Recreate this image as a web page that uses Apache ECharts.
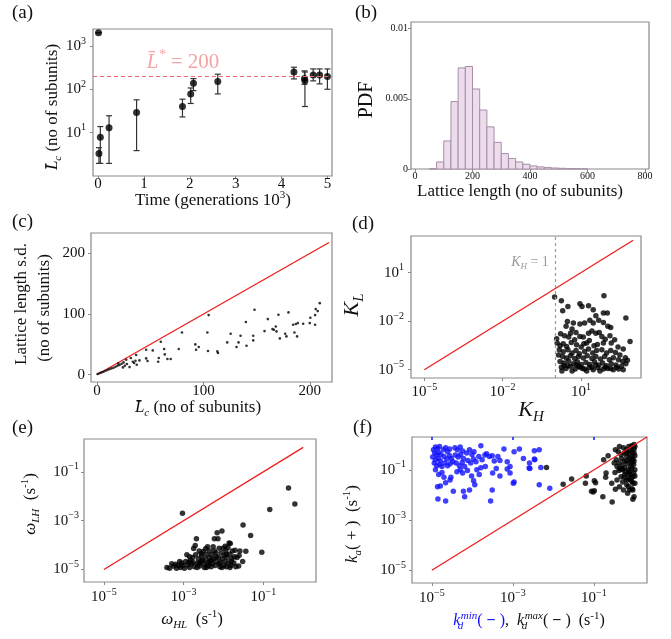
<!DOCTYPE html>
<html>
<head>
<meta charset="utf-8">
<script src="https://cdn.jsdelivr.net/npm/echarts@6/dist/echarts.min.js"></script>
<style>
html, body { margin: 0; padding: 0; background: #fff; }
#chart { width: 671px; height: 639px; }
</style>
</head>
<body>
<div id="chart"></div>
<script>
// (a) mean lattice length vs time (generations x 10^3), with error bars
const timeK = [0.01, 0.02, 0.05, 0.24, 0.84, 1.84, 2.02, 2.08, 2.61, 4.27, 4.50, 4.51, 4.69, 4.83, 5.0]
const meanLen = [2000, 3.3, 7.8, 13, 29, 40, 78, 137, 150, 250, 178, 158, 214, 214, 196]
const lenLow = [2000, 1.95, 1.95, 1.95, 3.85, 23, 47, 93, 78, 173, 130, 40, 156, 133, 100]
const lenHigh = [2000, 4.5, 13.8, 24.5, 57, 59, 107, 176, 222, 322, 265, 250, 294, 294, 294]
const targetLen = 200
const timeTicks = [0, 1, 2, 3, 4, 5]
const lenTicks = [10, 100, 1000]

// (b) histogram of lattice length
const binWidth = 25
const binStart = [50, 75, 100, 125, 150, 175, 200, 225, 250, 275, 300, 325, 350, 375, 400, 425, 450, 475, 500, 525, 550, 575]
const pdfValues = [0.00002, 0.0005, 0.002, 0.0048, 0.0072, 0.0073, 0.0057, 0.0042, 0.0030, 0.0019, 0.0011, 0.00075,
  0.0005, 0.00034, 0.00022, 0.00015, 0.0001, 0.00007, 0.00005, 0.00003, 0.00002, 0.00001]
const latticeTicks = [0, 200, 400, 600, 800]
const pdfTicks = [0, 0.005, 0.01]

// (c) mean length vs s.d. [mean, sd]
const meanSdPoints = [
  [0.6, 1.1], [2.5, 2.7], [4.3, 3.8], [6.2, 4.9], [8.1, 6.6], [10.0, 7.7], [11.8, 9.3], [13.7, 10.4], [15.6, 11.5], [17.5, 13.2],
  [19.3, 14.8], [21.2, 15.9], [23.1, 18.1], [25.0, 20.3], [20.0, 18.7], [24.4, 12.1], [26.2, 14.8], [27.5, 24.7], [28.1, 17.6], [30.6, 12.6],
  [31.8, 27.5], [33.7, 21.4], [34.9, 19.2], [36.2, 23.1], [37.4, 16.5], [36.8, 32.4], [39.9, 23.6], [46.2, 41.2], [46.2, 26.9], [47.5, 22.5],
  [52.4, 40.1], [57.5, 21.4], [58.1, 27.5], [60.0, 54.4], [63.1, 42.3], [63.7, 33.5], [66.2, 25.8], [69.3, 25.8], [76.8, 42.3], [79.9, 69.7],
  [92.4, 50], [93.1, 41.2], [95.6, 45.6], [103.7, 69.7], [104.3, 39], [104.9, 98.3], [113.1, 38.4], [113.7, 35.7], [122.4, 53.3], [125.6, 67.5],
  [131.1, 45.6], [133.0, 53.3], [134.9, 64.3], [139.9, 86.8], [140.5, 47.8], [146.8, 64.3], [146.8, 56.6], [148.0, 107], [157.4, 71.9], [160.5, 91.7],
  [164.9, 75.2], [166.2, 74.1], [168.0, 79.6], [168.7, 71.4], [170.5, 98.8], [171.8, 59.9], [176.8, 67.5], [178.0, 63.2], [179.9, 102.7], [184.3, 82.4],
  [185.5, 69.7], [186.8, 83.5], [188.0, 63.2], [188.7, 85.1], [193.7, 84], [199.9, 85.1], [200.5, 93.9], [204.9, 82.4], [204.9, 98.3], [205.5, 108.2],
  [207.4, 104.9], [209.3, 118]
]
const sdLine = [[0, 0], [218, 218]]
const sdTicks = [0, 100, 200]

// (d) K_H vs K_L, stored as [log10 K_H, log10 K_L]
const kPointsLog = [
  [-0.01, -0.51], [0.25, -0.74], [0.50, -1.09], [0.30, -1.36], [0.96, -0.93], [1.04, -1.09], [1.29, -1.05], [1.88, -0.43], [1.47, -1.30], [1.57, -1.67],
  [1.86, -1.50], [2.01, -1.50], [2.72, -1.81], [2.88, -3.25], [0.48, -2.02], [0.43, -2.32], [0.71, -2.12], [0.96, -2.18], [1.14, -2.12], [1.34, -1.95],
  [1.47, -2.12], [1.68, -1.95], [1.86, -2.08], [2.03, -2.32], [2.14, -2.39], [0.66, -2.49], [0.81, -2.70], [0.60, -2.74], [0.22, -2.78], [0.37, -2.90],
  [0.07, -3.09], [0.53, -2.98], [0.76, -3.15], [0.96, -2.94], [1.09, -2.98], [1.29, -2.74], [1.42, -2.61], [1.57, -2.74], [1.70, -2.70], [1.80, -2.94],
  [1.93, -3.11], [2.11, -2.90], [2.29, -3.15], [1.32, -3.19], [1.22, -3.35], [0.09, -3.35], [0.20, -3.52], [0.32, -3.39], [0.45, -3.56], [0.63, -3.31],
  [0.83, -3.46], [1.01, -3.60], [1.11, -3.39], [1.50, -3.52], [1.63, -3.44], [1.86, -3.35], [2.16, -3.35], [2.42, -3.60], [2.62, -3.72], [0.17, -3.77],
  [0.32, -3.89], [0.50, -3.77], [0.66, -3.97], [0.81, -3.81], [0.94, -4.01], [1.14, -3.87], [1.29, -3.72], [1.45, -3.97], [1.60, -3.81], [1.80, -3.77],
  [1.98, -3.97], [2.14, -3.81], [2.32, -3.93], [2.49, -4.09], [2.70, -4.26], [2.78, -4.42], [0.14, -4.09], [0.30, -4.18], [0.45, -4.28], [0.60, -4.14],
  [0.76, -4.30], [0.91, -4.18], [1.09, -4.28], [1.24, -4.14], [1.42, -4.30], [1.57, -4.18], [1.75, -4.34], [1.91, -4.18], [2.09, -4.38], [2.24, -4.26],
  [2.44, -4.38], [2.60, -4.49], [0.20, -4.49], [0.35, -4.59], [0.53, -4.46], [0.71, -4.63], [0.86, -4.51], [1.01, -4.67], [1.19, -4.55], [1.34, -4.67],
  [1.52, -4.51], [1.68, -4.71], [1.83, -4.59], [1.98, -4.75], [2.16, -4.63], [2.34, -4.71], [2.55, -4.79], [2.72, -4.63], [0.25, -4.84], [0.43, -4.92],
  [0.60, -4.79], [0.78, -4.96], [0.96, -4.84], [1.14, -4.96], [1.32, -4.84], [1.47, -5.00], [1.65, -4.88], [1.86, -4.96], [2.03, -4.92], [2.24, -5.00],
  [2.44, -4.96], [0.27, -5.08], [0.66, -5.08], [1.22, -5.08], [1.73, -5.08], [2.62, -5.00], [0.50, -4.75], [0.91, -4.79], [1.06, -4.92], [1.42, -4.84],
  [1.57, -4.71], [1.93, -4.84], [2.14, -4.92], [2.37, -4.84], [0.83, -4.71], [0.35, -4.75]
]
const kLine = [[1e-5, 1e-5], [1e3, 1e3]]
const kTicks = [1e-5, 1e-2, 1e1]

// (e) omega_HL vs omega_LH, stored as [log10 wHL, log10 wLH]
const omegaPointsLog = [
  [-3.42, -4.92], [-3.35, -4.95], [-3.30, -4.76], [-3.25, -4.86], [-3.18, -4.95], [-3.20, -4.78], [-3.13, -4.84], [-3.08, -4.92], [-3.05, -4.73], [-3.02, -4.84],
  [-2.98, -4.95], [-2.95, -4.67], [-2.92, -4.40], [-2.90, -4.81], [-2.85, -4.92], [-2.83, -4.62], [-2.80, -4.76], [-2.77, -4.51], [-2.75, -4.14], [-2.71, -4.02],
  [-2.73, -4.89], [-2.70, -4.40], [-2.68, -3.74], [-2.66, -4.73], [-2.63, -4.56], [-2.61, -4.24], [-2.60, -4.86], [-2.56, -4.67], [-2.55, -4.45], [-2.51, -4.26],
  [-2.50, -4.76], [-2.48, -4.92], [-2.46, -4.56], [-2.45, -4.15], [-2.43, -4.37], [-2.41, -4.73], [-2.40, -4.07], [-2.38, -4.86], [-2.36, -4.51], [-2.35, -4.24],
  [-2.33, -4.65], [-2.31, -4.89], [-2.30, -4.40], [-2.28, -4.76], [-2.26, -4.07], [-2.25, -4.56], [-2.23, -3.74], [-2.21, -4.84], [-2.19, -4.32], [-2.18, -4.67],
  [-2.16, -3.50], [-2.14, -3.74], [-2.13, -4.51], [-2.11, -4.13], [-2.09, -4.89], [-2.08, -4.70], [-2.06, -4.32], [-2.04, -3.42], [-2.03, -4.56], [-2.01, -4.13],
  [-1.99, -4.84], [-1.98, -4.43], [-1.96, -4.67], [-1.94, -4.24], [-1.93, -4.89], [-1.91, -4.51], [-1.89, -4.10], [-1.88, -4.73], [-1.86, -3.91], [-1.84, -4.37],
  [-1.83, -3.94], [-1.81, -4.84], [-1.79, -4.56], [-1.78, -4.24], [-1.74, -4.73], [-1.71, -4.21], [-1.69, -4.89], [-1.66, -4.51], [-1.62, -4.86], [-1.61, -4.43],
  [-1.59, -4.24], [-1.52, -4.67], [-1.44, -4.25], [-1.51, -3.18], [-1.32, -3.61], [-1.04, -4.29], [-0.84, -2.54], [-0.37, -1.66], [-0.21, -2.32], [-3.03, -2.70],
  [-3.10, -4.67], [-2.87, -4.70], [-2.66, -4.92], [-2.53, -4.62], [-2.43, -4.92], [-2.30, -4.62], [-2.18, -4.48], [-2.04, -4.92], [-1.93, -4.37], [-1.81, -4.67],
  [-1.73, -4.48], [-2.61, -4.76], [-2.36, -4.70], [-2.11, -4.76], [-2.77, -4.70], [-2.85, -4.48], [-2.56, -4.35], [-2.23, -4.24], [-1.96, -4.05], [-1.84, -4.92]
]
const omegaLine = [[1e-5, 1e-5], [1, 1]]
const rateTicks = [1e-5, 1e-3, 1e-1]

// (f) k_d vs k_a, stored as [log10 k_d, log10 k_a]
const kdMinPointsLog = [
  [-4.96, -0.20], [-4.91, -0.09], [-4.86, -0.15], [-4.81, -0.07], [-4.93, -0.33], [-4.88, -0.41], [-4.83, -0.31], [-4.78, -0.39], [-4.98, -0.49], [-4.91, -0.60],
  [-4.84, -0.55], [-4.79, -0.65], [-4.94, -0.73], [-4.88, -0.84], [-4.81, -0.79], [-4.75, -0.87], [-4.71, -0.20], [-4.66, -0.12], [-4.61, -0.28], [-4.56, -0.17],
  [-4.70, -0.47], [-4.63, -0.57], [-4.56, -0.44], [-4.52, -0.55], [-4.68, -0.73], [-4.61, -0.84], [-4.55, -0.76], [-4.48, -0.68], [-4.43, -0.12], [-4.37, -0.20],
  [-4.30, -0.09], [-4.24, -0.25], [-4.42, -0.41], [-4.35, -0.49], [-4.29, -0.39], [-4.22, -0.55], [-4.40, -0.73], [-4.32, -0.84], [-4.25, -0.71], [-4.19, -0.87],
  [-4.14, -0.33], [-4.07, -0.20], [-4.01, -0.39], [-3.96, -0.28], [-4.11, -0.63], [-4.04, -0.73], [-3.97, -0.57], [-3.91, -0.68], [-3.84, -0.47], [-3.79, -0.04],
  [-3.76, -0.60], [-3.69, -0.41], [-3.65, -0.36], [-3.58, -0.47], [-3.51, -0.44], [-3.46, -0.65], [-3.37, -0.47], [-3.32, -0.63], [-3.22, -0.17], [-3.14, -0.68],
  [-3.07, -0.87], [-2.97, -0.28], [-2.84, -0.17], [-2.74, -0.55], [-2.59, -0.73], [-2.58, -0.95], [-2.46, -0.60], [-2.35, -0.20], [-2.35, -1.59], [-4.47, -1.85],
  [-4.22, -1.85], [-4.19, -2.07], [-4.07, -1.80], [-3.97, -1.43], [-3.94, -1.59], [-3.83, -1.19], [-4.86, -1.67], [-4.79, -1.64], [-4.66, -1.51], [-4.55, -1.40],
  [-4.53, -1.29], [-4.38, -1.08], [-4.30, -1.00], [-4.24, -1.13], [-4.12, -1.03], [-4.02, -1.24], [-4.91, -1.00], [-4.83, -1.19], [-4.75, -1.11], [-4.70, -1.29],
  [-3.41, -0.95], [-3.50, -1.13], [-3.32, -1.24], [-3.14, -0.97], [-3.07, -1.13], [-2.97, -1.48], [-2.99, -1.53], [-3.51, -1.80], [-3.89, -1.00], [-3.79, -0.92],
  [-3.68, -0.87], [-4.85, -2.16], [-4.66, -2.24], [-3.55, -2.24], [-2.09, -1.73], [-2.47, -0.57], [-2.47, -0.24], [-2.60, -0.93], [-2.31, -0.91]
]
const kdMaxPointsLog = [
  [-1.19, -1.24], [-1.21, -1.53], [-0.99, -1.43], [-0.96, -1.51], [-0.99, -1.83], [-1.02, -1.88], [-1.06, -1.85], [-0.78, -2.07], [-0.76, -0.60], [-0.65, -0.44],
  [-0.70, -1.13], [-0.55, -2.28], [-0.04, -2.17], [-0.71, -1.29], [-0.48, -1.11], [-0.56, -1.53], [-0.47, -1.77], [-0.43, -1.40], [-0.37, -1.67], [-0.38, -1.03],
  [-0.33, -1.27], [-0.29, -1.48], [-0.24, -1.19], [-0.19, -1.59], [-0.15, -1.37], [-0.12, -1.08], [-0.07, -1.45], [-0.12, -1.80], [-0.06, -1.75], [-0.15, -1.67],
  [-0.47, -0.20], [-0.40, -0.28], [-0.33, -0.39], [-0.27, -0.12], [-0.20, -0.20], [-0.14, -0.07], [-0.07, -0.04], [-0.01, 0.01], [-0.45, -0.60], [-0.38, -0.73],
  [-0.32, -0.55], [-0.25, -0.65], [-0.19, -0.47], [-0.12, -0.36], [-0.06, -0.28], [-0.01, -0.17], [-0.43, -0.87], [-0.37, -0.95], [-0.30, -0.81], [-0.24, -0.92],
  [-0.17, -0.76], [-0.10, -0.65], [-0.04, -0.57], [0.01, -0.44], [-0.50, -0.73], [-0.22, -1.08], [-0.15, -1.00], [-0.09, -0.87], [-0.02, -0.79], [0.01, -1.00],
  [-0.04, -1.27], [0.01, -1.53], [-0.01, -2.07], [-0.04, -0.09], [0.01, -0.07], [-0.01, -0.65], [-0.10, -1.19], [-0.29, -1.00], [-0.20, -1.40], [-0.27, -1.80],
  [-0.17, -1.93], [-0.02, -1.13], [-0.07, -0.95], [-0.37, -0.07], [-0.25, -0.33], [-2.17, -0.91], [-1.76, -1.57], [-1.55, -1.36], [-0.12, -0.20], [-0.19, -0.33],
  [-0.06, -0.47], [-0.12, -0.55], [-0.20, -0.65], [-0.32, -0.97], [-0.25, -1.29], [-0.15, -1.19], [-0.09, -1.35], [-0.04, -1.53], [-0.01, -0.33], [-0.06, -0.73],
  [0.01, -1.24], [-0.04, -1.80]
]
const rateLine = [[1e-5, 1e-5], [2.04, 2.04]]

const SERIF = 'Liberation Serif'
const INK = '#111'
const BOX = '#8a8a8a'
const RED = '#ee1d1d'
const BLUE = '#1010ff'

const chart = echarts.init(document.getElementById('chart'))

// log10 pairs -> plain values for the log axes
const fromLog = (pts) => pts.map(p => [Math.pow(10, p[0]), Math.pow(10, p[1])])

// tick label "10^n" with a raised exponent
function powLabel (v) {
  const e = Math.round(Math.log10(v))
  return '10{s|' + (e < 0 ? '\u2212' + (-e) : e) + '}'
}

function makeAxis (gridIndex, type, min, max, ticks, size, margin, formatter) {
  const sup = Math.round(size * 0.68)
  return {
    type, gridIndex, min, max,
    axisLine: { show: false, onZero: false },
    axisTick: { show: true, length: 3, customValues: ticks, lineStyle: { color: BOX, width: 1 } },
    axisLabel: {
      customValues: ticks,
      margin,
      formatter,
      fontFamily: SERIF,
      fontSize: size,
      color: INK,
      // plain numbers need no room for an exponent
      lineHeight: formatter ? Math.round(size * 1.3) : size,
      rich: { s: { fontFamily: SERIF, fontSize: sup, lineHeight: sup, verticalAlign: 'top', color: INK } }
    },
    splitLine: { show: false }
  }
}

// rich text styles for titles (graphic text uses fill)
function richSet (size, color) {
  const lh = Math.round(size * 1.3)
  const small = Math.round(size * 0.66)
  const base = { fontFamily: SERIF, fill: color, color }
  return {
    n: Object.assign({}, base, { fontSize: size, lineHeight: lh }),
    i: Object.assign({}, base, { fontSize: size, lineHeight: lh, fontStyle: 'italic' }),
    sub: Object.assign({}, base, { fontSize: small, lineHeight: small, verticalAlign: 'bottom', fontStyle: 'italic' }),
    subz: Object.assign({}, base, { fontSize: small, lineHeight: small, verticalAlign: 'bottom', fontStyle: 'italic', width: 0.5, align: 'left' }),
    sup: Object.assign({}, base, { fontSize: small, lineHeight: small, verticalAlign: 'top' }),
    supi: Object.assign({}, base, { fontSize: small, lineHeight: small, verticalAlign: 'top', fontStyle: 'italic' }),
    dash: Object.assign({}, base, { fontSize: size, lineHeight: lh, fontWeight: 'bold' })
  }
}

function textEl (x, y, text, size, color, rotate, extraRich) {
  return {
    type: 'text',
    x, y,
    rotation: rotate ? Math.PI / 2 : 0,
    silent: true,
    z: 100,
    style: {
      text,
      rich: Object.assign(richSet(size, color), extraRich || {}),
      align: 'center',
      verticalAlign: 'middle',
      fontFamily: SERIF,
      fontSize: size,
      fill: color
    }
  }
}

// blue tokens for the k_d^min part of (f)
const blueRich = (() => {
  const r = richSet(16, BLUE)
  return { bi: r.i, bsubz: r.subz, bsupi: r.supi, bn: r.n, bdash: r.dash }
})()

const grids = [
  { left: 93, top: 29, width: 239, height: 147 },
  { left: 411, top: 22, width: 238, height: 147 },
  { left: 91, top: 233, width: 241, height: 149 },
  { left: 411, top: 236, width: 230, height: 142 },
  { left: 84, top: 439, width: 232, height: 143 },
  { left: 412, top: 437, width: 235, height: 146 }
].map(g => Object.assign(g, { show: true, borderColor: BOX, borderWidth: 1.2 }))

const xAxes = [
  makeAxis(0, 'value', -0.11, 5.1, timeTicks, 15, 1),
  makeAxis(1, 'value', -14, 814, latticeTicks, 10, 2),
  makeAxis(2, 'value', -5.6, 220.8, sdTicks, 15, 2),
  makeAxis(3, 'log', 3.09e-6, 1995, kTicks, 15, 4, powLabel),
  makeAxis(4, 'log', 3.16e-6, 2.09, rateTicks, 15, 5, powLabel),
  makeAxis(5, 'log', 3.24e-6, 2.04, rateTicks, 15, 5, powLabel),
  // blue tick marks along the top of (f)
  {
    type: 'log', gridIndex: 5, position: 'top', min: 3.24e-6, max: 2.04,
    axisLine: { show: false, onZero: false },
    axisTick: { show: true, inside: true, length: 3, customValues: rateTicks, lineStyle: { color: BLUE, width: 1.5 } },
    axisLabel: { show: false },
    splitLine: { show: false }
  }
]

const yAxes = [
  makeAxis(0, 'log', 1, 2450, lenTicks, 15, 7, powLabel),
  makeAxis(1, 'value', 0, 0.01047, pdfTicks, 10, 3),
  makeAxis(2, 'value', -12, 233.6, sdTicks, 15, 6),
  makeAxis(3, 'log', 3.09e-6, 1820, kTicks, 15, 7, powLabel),
  makeAxis(4, 'log', 3.09e-6, 2.19, rateTicks, 15, 5, powLabel),
  makeAxis(5, 'log', 3.09e-6, 2.04, rateTicks, 15, 6, powLabel)
]

const redLine = (idx, data, z) => ({
  type: 'line', xAxisIndex: idx, yAxisIndex: idx, data, symbol: 'none', silent: true, z: z || 2,
  lineStyle: { color: RED, width: 1.3 }
})

const option = {
  animation: false,
  backgroundColor: '#fff',
  grid: grids,
  xAxis: xAxes,
  yAxis: yAxes,
  series: [
    // (a) error bars
    {
      type: 'custom',
      xAxisIndex: 0,
      yAxisIndex: 0,
      data: timeK.map((t, i) => [t, lenLow[i], lenHigh[i]]),
      encode: { x: 0, y: [1, 2] },
      renderItem: (params, api) => {
        const lo = api.coord([api.value(0), api.value(1)])
        const hi = api.coord([api.value(0), api.value(2)])
        const w = 3
        const st = { stroke: '#333', lineWidth: 1.2 }
        return {
          type: 'group',
          children: [
            { type: 'line', shape: { x1: lo[0], y1: lo[1], x2: hi[0], y2: hi[1] }, style: st },
            { type: 'line', shape: { x1: lo[0] - w, y1: lo[1], x2: lo[0] + w, y2: lo[1] }, style: st },
            { type: 'line', shape: { x1: hi[0] - w, y1: hi[1], x2: hi[0] + w, y2: hi[1] }, style: st }
          ]
        }
      }
    },
    // (a) means
    {
      type: 'scatter',
      xAxisIndex: 0,
      yAxisIndex: 0,
      data: timeK.map((t, i) => [t, meanLen[i]]),
      symbolSize: 7,
      itemStyle: { color: '#000' },
      z: 3,
      markLine: {
        silent: true,
        symbol: ['none', 'none'],
        label: { show: false },
        lineStyle: { color: '#f26a6a', type: [4, 3], width: 1 },
        data: [{ yAxis: targetLen }]
      }
    },
    // (b) histogram
    {
      type: 'custom',
      xAxisIndex: 1,
      yAxisIndex: 1,
      data: binStart.map((s, i) => [s, s + binWidth, pdfValues[i]]),
      encode: { x: [0, 1], y: 2 },
      renderItem: (params, api) => {
        const top = api.coord([api.value(0), api.value(2)])
        const bottom = api.coord([api.value(1), 0])
        return {
          type: 'rect',
          shape: { x: top[0], y: top[1], width: bottom[0] - top[0], height: bottom[1] - top[1] },
          style: { fill: '#eddcec', stroke: '#a68ea6', lineWidth: 1 }
        }
      }
    },
    // (c)
    redLine(2, sdLine),
    {
      type: 'scatter', xAxisIndex: 2, yAxisIndex: 2, data: meanSdPoints,
      symbolSize: 2.6, itemStyle: { color: '#000' }, z: 3
    },
    // (d)
    redLine(3, kLine),
    {
      type: 'scatter', xAxisIndex: 3, yAxisIndex: 3, data: fromLog(kPointsLog),
      symbolSize: 5.5, itemStyle: { color: '#000' }, z: 3,
      markLine: {
        silent: true,
        symbol: ['none', 'none'],
        label: { show: false },
        lineStyle: { color: '#9a9a9a', type: [3, 3], width: 1.2 },
        data: [{ xAxis: 1 }]
      }
    },
    // (e)
    redLine(4, omegaLine),
    {
      type: 'scatter', xAxisIndex: 4, yAxisIndex: 4, data: fromLog(omegaPointsLog),
      symbolSize: 5.5, itemStyle: { color: '#000' }, z: 3
    },
    // (f)
    {
      type: 'scatter', xAxisIndex: 5, yAxisIndex: 5, data: fromLog(kdMinPointsLog),
      symbolSize: 5.5, itemStyle: { color: BLUE }, z: 3
    },
    {
      type: 'scatter', xAxisIndex: 5, yAxisIndex: 5, data: fromLog(kdMaxPointsLog),
      symbolSize: 5.5, itemStyle: { color: '#000' }, z: 3
    },
    redLine(5, rateLine, 4)
  ],
  graphic: [
    // panel letters
    { type: 'text', x: 12, y: 13, style: { text: '(a)', fontFamily: SERIF, fontSize: 19, fill: INK, verticalAlign: 'middle' } },
    { type: 'text', x: 355, y: 13, style: { text: '(b)', fontFamily: SERIF, fontSize: 19, fill: INK, verticalAlign: 'middle' } },
    { type: 'text', x: 12, y: 222, style: { text: '(c)', fontFamily: SERIF, fontSize: 19, fill: INK, verticalAlign: 'middle' } },
    { type: 'text', x: 352, y: 224, style: { text: '(d)', fontFamily: SERIF, fontSize: 19, fill: INK, verticalAlign: 'middle' } },
    { type: 'text', x: 12, y: 428, style: { text: '(e)', fontFamily: SERIF, fontSize: 19, fill: INK, verticalAlign: 'middle' } },
    { type: 'text', x: 353, y: 428, style: { text: '(f)', fontFamily: SERIF, fontSize: 19, fill: INK, verticalAlign: 'middle' } },
    // (a)
    textEl(213, 201, '{n|Time (generations 10}{sup|3}{n|)}', 17, INK),
    textEl(53, 107, '{i|L\u0304}{sub|c}{n| (no of subunits)}', 17, INK, true),
    textEl(183, 62, '{i|L\u0304}{supi|*}{n| = 200}', 21, '#f5a3a3'),
    // (b)
    textEl(520, 192, '{n|Lattice length (no of subunits)}', 17, INK),
    textEl(367, 100, '{n|PDF}', 20, INK, true),
    // (c)
    textEl(198, 408, '{i|L\u0304}{sub|c}{n| (no of subunits)}', 17, INK),
    textEl(22, 304, '{n|Lattice length s.d.}', 17, INK, true),
    textEl(45, 308, '{n|(no of subunits)}', 17, INK, true),
    // (d)
    textEl(352, 305, '{i|K}{sub|L}', 22, INK, true),
    textEl(531, 410, '{i|K}{sub|H}', 22, INK),
    textEl(530, 262, '{i|K}{sub|H}{n| = 1}', 14, '#9a9a9a'),
    // (e)
    textEl(31, 504, '{i|\u03c9}{sub|LH}{n|  (s}{sup|-1}{n|)}', 17, INK, true),
    textEl(192, 620, '{i|\u03c9}{sub|HL}{n|  (s}{sup|-1}{n|)}', 17, INK),
    // (f)
    textEl(353, 524, '{i|k}{sub|a}{n|( + )  (s}{sup|-1}{n|)}', 17, INK, true),
    textEl(529, 621,
      '{bi|k}{bsubz|d}{bsupi|min}{bn|(}{bdash| \u2212 }{bn|)}{n|,  }{i|k}{subz|d}{supi|max}{n|(}{dash| \u2212 }{n|)  (s}{sup|-1}{n|)}',
      16, INK, false, blueRich)
  ]
}

chart.setOption(option)
</script>
</body>
</html>
